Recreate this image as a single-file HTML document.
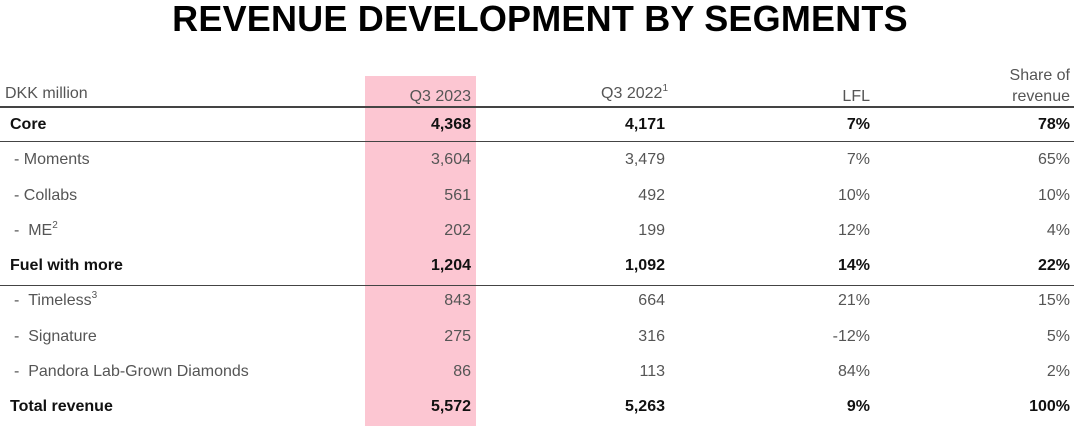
<!DOCTYPE html>
<html><head><meta charset="utf-8"><style>
body{margin:0;width:1080px;height:426px;background:#fff;position:relative;overflow:hidden;font-family:"Liberation Sans",sans-serif}
.t{position:absolute;font-size:16px;color:#555;white-space:nowrap;line-height:20px}
.b{font-weight:bold;color:#111}
.r{text-align:right}
.line{position:absolute;left:0;width:1074px;background:#444}
sup{font-size:10px;line-height:0;vertical-align:0;position:relative;top:-7px}
</style></head><body>
<div style="position:absolute;left:0;width:1080px;top:-2px;text-align:center;font-size:36px;font-weight:bold;color:#000;letter-spacing:0.2px">REVENUE DEVELOPMENT BY SEGMENTS</div>
<div style="position:absolute;left:365px;top:76px;width:111px;height:350px;background:#fcc6d2"></div>
<div class="line" style="top:106px;height:2px"></div>
<div class="line" style="top:141px;height:1px"></div>
<div class="line" style="top:285px;height:1px"></div>
<div id="tbl"></div>
<script>
const headers=["Q3 2023","Q3 2022","LFL","Share of revenue"];
const labels=["Core","- Moments","- Collabs","-  ME","Fuel with more","-  Timeless","-  Signature","-  Pandora Lab-Grown Diamonds","Total revenue"];
const sups=["","","","2","","3","","",""];
const q32023=["4,368","3,604","561","202","1,204","843","275","86","5,572"];
const q32022=["4,171","3,479","492","199","1,092","664","316","113","5,263"];
const lfl=["7%","7%","10%","12%","14%","21%","-12%","84%","9%"];
const share=["78%","65%","10%","4%","22%","15%","5%","2%","100%"];
const bold=[true,false,false,false,true,false,false,false,true];
const tbl=document.getElementById('tbl');
function mk(txt,x,y,right,isBold,name){
  const d=document.createElement('div');
  d.className='t'+(isBold?' b':'')+(right?' r':'');
  d.innerHTML=txt;
  if(right){d.style.right=(1080-x)+'px';}else{d.style.left=x+'px';}
  d.style.top=(y-10)+'px';
  
  
  tbl.appendChild(d);
}
mk('DKK million',5,94,false,false,'header-dkk-million');
mk(headers[0],471,97,true,false,'header-q3-2023');
mk(headers[1]+'<sup>1</sup>',668,94,true,false,'header-q3-2022');
mk(headers[2],870,97,true,false,'header-lfl');
mk('Share of',1070,76,true,false,'header-share-1');
mk('revenue',1070,97,true,false,'header-share-2');
const rowY=i=>125+i*35.25;
labels.forEach((l,i)=>{
  const y=rowY(i);
  const lab=l.replace(/ /g,'&nbsp;')+(sups[i]?'<sup>'+sups[i]+'</sup>':'');
  mk(lab,bold[i]?10:14,y,false,bold[i],'row-label');
  mk(q32023[i],471,y,true,bold[i],'cell-q3-2023');
  mk(q32022[i],665,y,true,bold[i],'cell-q3-2022');
  mk(lfl[i],870,y,true,bold[i],'cell-lfl');
  mk(share[i],1070,y,true,bold[i],'cell-share');
});
</script>
</body></html>
